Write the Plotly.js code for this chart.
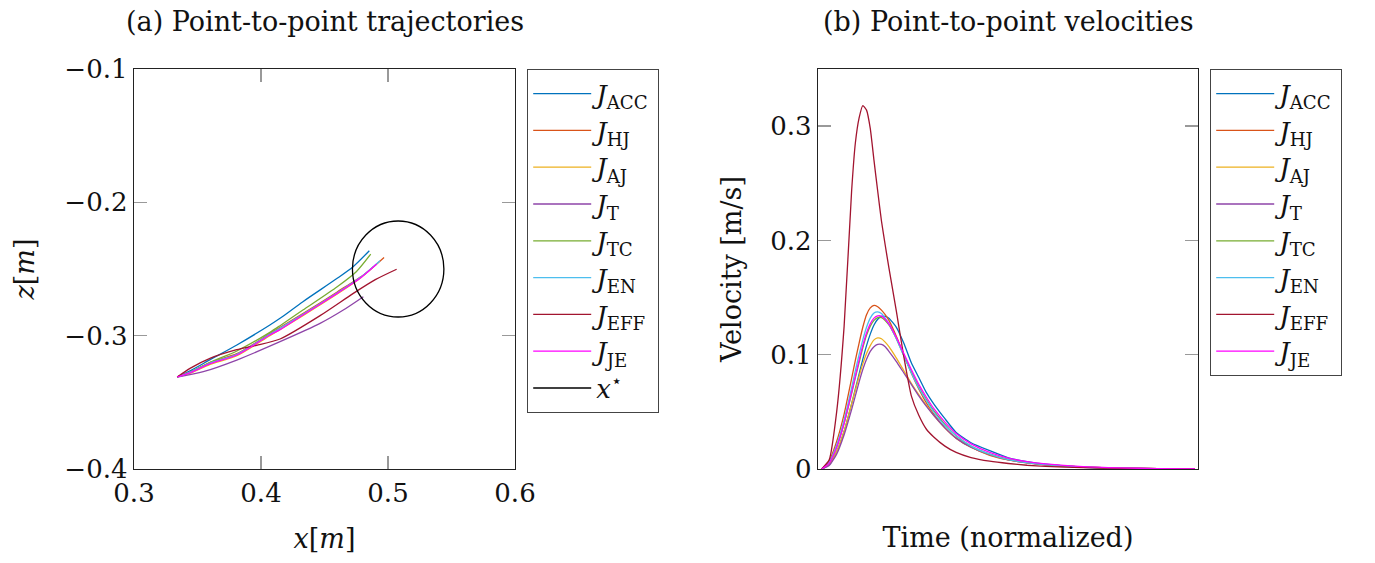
<!DOCTYPE html>
<html>
<head>
<meta charset="utf-8">
<script src="https://cdn.plot.ly/plotly-3.0.1.min.js"></script>
<style>html,body{margin:0;padding:0;background:#fff;}#chart{width:1375px;height:563px;}</style>
</head>
<body>
<div id="chart"></div>
<script>
// ---------- data ----------
const seriesNames = ['ACC', 'HJ', 'AJ', 'T', 'TC', 'EN', 'EFF', 'JE'];
const seriesColors = ['#0072BD', '#D95319', '#EDB120', '#8E44A8', '#77AC30', '#4DBEEE', '#A2142F', '#FF00FF'];

// (a) trajectories: x [m], z [m]
const trajX_ACC = [0.334, 0.345, 0.360, 0.381, 0.407, 0.415, 0.433, 0.460, 0.4725, 0.4853];
const trajZ_ACC = [-0.331, -0.326, -0.318, -0.307, -0.292, -0.287, -0.2745, -0.257, -0.2483, -0.2363];
const trajX_HJ = [0.334, 0.345, 0.360, 0.381, 0.407, 0.433, 0.460, 0.482, 0.4969];
const trajZ_HJ = [-0.331, -0.327, -0.320, -0.3135, -0.2985, -0.2835, -0.2672, -0.2535, -0.2413];
const trajX_AJ = [0.334, 0.345, 0.360, 0.381, 0.407, 0.433, 0.460, 0.476, 0.4885];
const trajZ_AJ = [-0.331, -0.328, -0.3215, -0.315, -0.300, -0.285, -0.2688, -0.2585, -0.2483];
const trajX_T = [0.334, 0.3546, 0.3809, 0.415, 0.4465, 0.4648, 0.4806];
const trajZ_T = [-0.331, -0.327, -0.3183, -0.3045, -0.2908, -0.2808, -0.2708];
const trajX_TC = [0.334, 0.345, 0.360, 0.381, 0.407, 0.415, 0.433, 0.460, 0.475, 0.4864];
const trajZ_TC = [-0.331, -0.327, -0.320, -0.3115, -0.2975, -0.2925, -0.2808, -0.2633, -0.252, -0.2388];
const trajX_EN = [0.334, 0.345, 0.360, 0.381, 0.407, 0.433, 0.460, 0.480, 0.4937];
const trajZ_EN = [-0.331, -0.3272, -0.3205, -0.3140, -0.2990, -0.2840, -0.2678, -0.2550, -0.2438];
const trajX_EFF = [0.334, 0.3441, 0.3598, 0.3809, 0.3966, 0.415, 0.4465, 0.4727, 0.490, 0.5068];
const trajZ_EFF = [-0.331, -0.3245, -0.317, -0.3105, -0.3072, -0.3025, -0.2850, -0.2683, -0.258, -0.2502];
const trajX_JE = [0.334, 0.345, 0.360, 0.381, 0.407, 0.415, 0.433, 0.460, 0.478, 0.4911];
const trajZ_JE = [-0.331, -0.3275, -0.321, -0.3145, -0.2995, -0.2955, -0.2845, -0.2683, -0.257, -0.2463];

// target x*: circle centre and radius
const targetCenterX = 0.508;
const targetCenterZ = -0.250;
const targetRadius = 0.036;

// (b) velocities over normalized time
const timeNorm = [0, 0.02, 0.04, 0.06, 0.08, 0.09, 0.10, 0.11, 0.12, 0.13, 0.14, 0.15, 0.16, 0.17, 0.18, 0.20, 0.22, 0.24, 0.26, 0.28, 0.30, 0.33, 0.36, 0.40, 0.45, 0.50, 0.55, 0.60, 0.70, 0.80, 0.90, 1.00];
const vel_ACC = [0, 0.004, 0.015, 0.033, 0.057, 0.070, 0.083, 0.096, 0.108, 0.118, 0.126, 0.131, 0.1335, 0.1336, 0.132, 0.124, 0.110, 0.093, 0.080, 0.067, 0.057, 0.044, 0.032, 0.023, 0.016, 0.0098, 0.0065, 0.0042, 0.0015, 0.0005, 0.0002, 0.0001];
const vel_HJ = [0, 0.007, 0.024, 0.048, 0.079, 0.095, 0.110, 0.124, 0.135, 0.141, 0.1432, 0.142, 0.139, 0.135, 0.130, 0.116, 0.100, 0.084, 0.070, 0.058, 0.048, 0.036, 0.027, 0.019, 0.012, 0.008, 0.0055, 0.0037, 0.0017, 0.0008, 0.0004, 0.0002];
const vel_AJ = [0, 0.004, 0.015, 0.033, 0.057, 0.069, 0.081, 0.092, 0.101, 0.108, 0.113, 0.1147, 0.114, 0.111, 0.107, 0.097, 0.086, 0.075, 0.065, 0.056, 0.047, 0.036, 0.027, 0.019, 0.0125, 0.008, 0.0054, 0.0037, 0.0017, 0.0008, 0.0003, 0.0001];
const vel_T = [0, 0.003, 0.013, 0.030, 0.052, 0.064, 0.076, 0.087, 0.096, 0.103, 0.107, 0.109, 0.109, 0.107, 0.103, 0.094, 0.084, 0.074, 0.064, 0.055, 0.047, 0.036, 0.027, 0.019, 0.0125, 0.008, 0.0054, 0.0037, 0.0017, 0.0008, 0.0003, 0.0001];
const vel_TC = [0, 0.005, 0.019, 0.040, 0.066, 0.080, 0.093, 0.106, 0.117, 0.125, 0.130, 0.1325, 0.1325, 0.130, 0.126, 0.114, 0.099, 0.085, 0.072, 0.061, 0.051, 0.039, 0.029, 0.020, 0.013, 0.0085, 0.0057, 0.0039, 0.0018, 0.0008, 0.0003, 0.0001];
const vel_EN = [0, 0.006, 0.021, 0.043, 0.071, 0.086, 0.100, 0.113, 0.124, 0.132, 0.1365, 0.1374, 0.136, 0.132, 0.127, 0.114, 0.099, 0.084, 0.071, 0.060, 0.050, 0.038, 0.029, 0.020, 0.013, 0.0082, 0.0055, 0.0038, 0.0017, 0.0008, 0.0003, 0.0001];
const vel_EFF = [0, 0.008, 0.050, 0.125, 0.243, 0.285, 0.307, 0.318, 0.314, 0.298, 0.270, 0.243, 0.217, 0.196, 0.176, 0.138, 0.098, 0.064, 0.047, 0.035, 0.028, 0.020, 0.0145, 0.0100, 0.0068, 0.0048, 0.0033, 0.0023, 0.0012, 0.0006, 0.0003, 0.0001];
const vel_JE = [0, 0.005, 0.019, 0.040, 0.067, 0.081, 0.095, 0.108, 0.119, 0.127, 0.132, 0.1340, 0.1338, 0.131, 0.127, 0.115, 0.101, 0.087, 0.074, 0.063, 0.053, 0.041, 0.031, 0.022, 0.0145, 0.0095, 0.0065, 0.0045, 0.0021, 0.0010, 0.0004, 0.0001];

const xTickVals = [0.3, 0.4, 0.5, 0.6];
const zTickVals = [-0.4, -0.3, -0.2, -0.1];
const vTickVals = [0, 0.1, 0.2, 0.3];

// ---------- build ----------
const trajX = {ACC: trajX_ACC, HJ: trajX_HJ, AJ: trajX_AJ, T: trajX_T, TC: trajX_TC, EN: trajX_EN, EFF: trajX_EFF, JE: trajX_JE};
const trajZ = {ACC: trajZ_ACC, HJ: trajZ_HJ, AJ: trajZ_AJ, T: trajZ_T, TC: trajZ_TC, EN: trajZ_EN, EFF: trajZ_EFF, JE: trajZ_JE};
const vel = {ACC: vel_ACC, HJ: vel_HJ, AJ: vel_AJ, T: vel_T, TC: vel_TC, EN: vel_EN, EFF: vel_EFF, JE: vel_JE};

const FONT = 'DejaVu Serif';
const label = n => '<i>J</i><sub>' + n + '</sub>';
const traces = [];
seriesNames.forEach((n, i) => {
  traces.push({
    type: 'scatter', mode: 'lines', x: trajX[n], y: trajZ[n],
    xaxis: 'x', yaxis: 'y', name: label(n), legend: 'legend', legendgroup: 'a' + n,
    line: {color: seriesColors[i], width: 1.3, shape: 'spline', smoothing: 0.7}
  });
});
// legend entry for the target x* (drawn as a layout circle shape)
traces.push({
  type: 'scatter', mode: 'lines', x: [null], y: [null], xaxis: 'x', yaxis: 'y',
  name: '<i>x</i><sup>\u22c6</sup>', legend: 'legend', legendgroup: 'target',
  line: {color: '#000', width: 1.3}
});
seriesNames.forEach((n, i) => {
  traces.push({
    type: 'scatter', mode: 'lines', x: timeNorm, y: vel[n],
    xaxis: 'x2', yaxis: 'y2', name: label(n), legend: 'legend2', legendgroup: 'b' + n,
    line: {color: seriesColors[i], width: 1.3, shape: 'spline', smoothing: 0.5}
  });
});

const W = 1375, H = 563;
const axLine = {showline: true, linecolor: '#222', linewidth: 1.3, mirror: 'ticks', ticks: 'inside',
  ticklen: 13, tickcolor: '#999', tickwidth: 1.3, zeroline: false, showgrid: false,
  tickfont: {family: FONT, size: 26, color: '#111'}};

const legendCommon = {
  bgcolor: '#fff', bordercolor: '#444', borderwidth: 1.2,
  font: {family: FONT, size: 26, color: '#111'},
  xanchor: 'left', yanchor: 'top', traceorder: 'grouped', tracegroupgap: 0, itemwidth: 58
};

const titleFont = {family: FONT, size: 27, color: '#111'};
const layout = {
  width: W, height: H,
  margin: {l: 0, r: 0, t: 0, b: 0},
  paper_bgcolor: '#fff', plot_bgcolor: '#fff',
  font: {family: FONT, size: 25, color: '#111'},
  showlegend: true,
  xaxis: Object.assign({}, axLine, {domain: [134 / W, 515 / W], range: [0.3, 0.6], tickvals: xTickVals,
    ticktext: xTickVals.map(v => v.toFixed(1)), anchor: 'y',
    title: {text: '<i>x</i>[<i>m</i>]', font: titleFont, standoff: 22}}),
  yaxis: Object.assign({}, axLine, {domain: [(H - 469) / H, (H - 69) / H], range: [-0.4, -0.1], tickvals: zTickVals,
    ticktext: zTickVals.map(v => '\u2212' + Math.abs(v).toFixed(1)), anchor: 'x',
    title: {text: '<i>z</i>[<i>m</i>]', font: titleFont, standoff: 22}}),
  xaxis2: Object.assign({}, axLine, {domain: [818 / W, 1198 / W], range: [-0.01, 1.008], ticks: '', showticklabels: false,
    anchor: 'y2', mirror: true,
    title: {text: 'Time (normalized)', font: titleFont, standoff: 58}}),
  yaxis2: Object.assign({}, axLine, {domain: [(H - 469) / H, (H - 69) / H], range: [0, 0.35], tickvals: vTickVals,
    ticktext: vTickVals.map(v => v === 0 ? '0' : v.toFixed(1)), anchor: 'x2',
    title: {text: 'Velocity [m/s]', font: titleFont, standoff: 20}}),
  legend: Object.assign({}, legendCommon, {x: 527 / W, y: (H - 69) / H}),
  legend2: Object.assign({}, legendCommon, {x: 1210 / W, y: (H - 69) / H}),
  shapes: [{
    type: 'circle', xref: 'x', yref: 'y',
    x0: targetCenterX - targetRadius, x1: targetCenterX + targetRadius,
    y0: targetCenterZ - targetRadius, y1: targetCenterZ + targetRadius,
    line: {color: '#000', width: 1.3}
  }],
  annotations: [
    {text: '(a) Point-to-point trajectories', xref: 'paper', yref: 'paper', x: (134 + 515) / 2 / W, y: 1 - 22 / H,
     xanchor: 'center', yanchor: 'middle', showarrow: false, font: titleFont},
    {text: '(b) Point-to-point velocities', xref: 'paper', yref: 'paper', x: (818 + 1198) / 2 / W, y: 1 - 22 / H,
     xanchor: 'center', yanchor: 'middle', showarrow: false, font: titleFont}
  ]
};

Plotly.newPlot('chart', traces, layout, {staticPlot: true, displayModeBar: false});
</script>
</body>
</html>
